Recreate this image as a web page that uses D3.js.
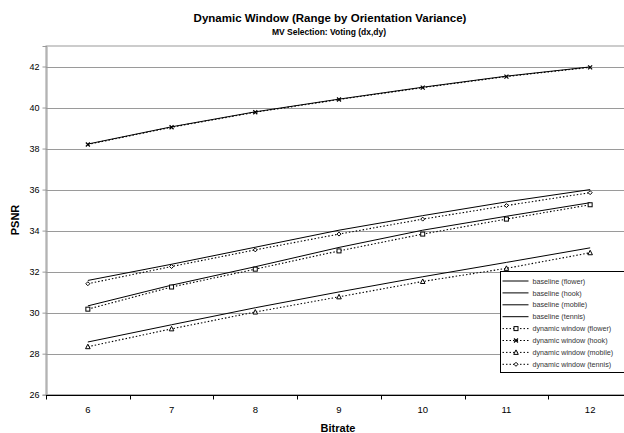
<!DOCTYPE html>
<html>
<head>
<meta charset="utf-8">
<script src="https://cdn.jsdelivr.net/npm/d3@7/dist/d3.min.js"></script>
<style>
  html, body { margin: 0; padding: 0; background: #fff; }
  svg { display: block; font-family: "Liberation Sans", Arial, sans-serif; }
</style>
</head>
<body>
<svg id="chart" width="624" height="433"></svg>
<script>
// Bitrate categories along the x axis
const bitrates = [6, 7, 8, 9, 10, 11, 12];
const yTicks = [26, 28, 30, 32, 34, 36, 38, 40, 42];

// PSNR values per sequence
const baselineFlower = [30.33, 31.34, 32.24, 33.18, 34.02, 34.70, 35.36];
const baselineHook   = [38.22, 39.06, 39.79, 40.41, 40.99, 41.53, 41.98];
const baselineMobile = [28.57, 29.41, 30.24, 31.01, 31.75, 32.45, 33.16];
const baselineTennis = [31.57, 32.36, 33.19, 34.02, 34.73, 35.40, 36.00];

const dynamicFlower = [30.17, 31.25, 32.12, 33.01, 33.83, 34.56, 35.26];
const dynamicHook   = [38.20, 39.04, 39.77, 40.39, 40.97, 41.51, 41.96];
const dynamicMobile = [28.34, 29.21, 30.03, 30.77, 31.52, 32.16, 32.92];
const dynamicTennis = [31.41, 32.25, 33.06, 33.83, 34.56, 35.22, 35.85];

const seriesNames = [
  "baseline (flower)", "baseline (hook)", "baseline (mobile)", "baseline (tennis)",
  "dynamic window (flower)", "dynamic window (hook)", "dynamic window (mobile)", "dynamic window (tennis)"
];

const series = [
  { name: seriesNames[0], values: baselineFlower, dashed: false, marker: null },
  { name: seriesNames[1], values: baselineHook,   dashed: false, marker: null },
  { name: seriesNames[2], values: baselineMobile, dashed: false, marker: null },
  { name: seriesNames[3], values: baselineTennis, dashed: false, marker: null },
  { name: seriesNames[4], values: dynamicFlower, dashed: true, marker: "square" },
  { name: seriesNames[5], values: dynamicHook,   dashed: true, marker: "cross" },
  { name: seriesNames[6], values: dynamicMobile, dashed: true, marker: "triangle" },
  { name: seriesNames[7], values: dynamicTennis, dashed: true, marker: "diamond" }
];

const svg = d3.select("#chart");
const plot = { left: 46, top: 46, right: 632, bottom: 394.7 };

const x = d3.scalePoint().domain(bitrates).range([plot.left, plot.right]).padding(0.5);
const y = d3.scaleLinear().domain([26, 43]).range([plot.bottom, plot.top]);

// Plot area frame
svg.append("rect")
  .attr("x", plot.left).attr("y", plot.top)
  .attr("width", plot.right - plot.left).attr("height", plot.bottom - plot.top)
  .attr("fill", "#fff").attr("stroke", "#9a9a9a").attr("stroke-width", 1);

// Horizontal gridlines
svg.append("g").selectAll("line").data(yTicks.filter(d => d > 26)).join("line")
  .attr("x1", plot.left).attr("x2", plot.right)
  .attr("y1", d => Math.round(y(d)) + 0.5).attr("y2", d => Math.round(y(d)) + 0.5)
  .attr("stroke", "#9a9a9a").attr("stroke-width", 1);

// Y axis
const yAxis = svg.append("g")
  .attr("transform", `translate(${plot.left + 0.5},0)`)
  .call(d3.axisLeft(y).tickValues(yTicks).tickSize(4).tickPadding(3));
yAxis.select(".domain").attr("stroke", "#9a9a9a");
yAxis.selectAll(".tick line").attr("stroke", "#9a9a9a");
yAxis.selectAll(".tick text").attr("font-size", 9).attr("fill", "#000")
  .attr("font-family", "Liberation Sans, Arial, sans-serif");

// X axis: ticks fall between the categories
const step = x.step();
const xBoundaries = d3.range(bitrates.length + 1).map(i => plot.left + i * step);
const xAxis = svg.append("g").attr("transform", `translate(0,${Math.round(plot.bottom) + 0.5})`);
xAxis.append("line").attr("x1", plot.left).attr("x2", plot.right).attr("stroke", "#000");
xAxis.selectAll("line.tk").data(xBoundaries).join("line").attr("class", "tk")
  .attr("x1", d => Math.round(d) + 0.5).attr("x2", d => Math.round(d) + 0.5)
  .attr("y1", 0).attr("y2", 4).attr("stroke", "#000");
xAxis.selectAll("text").data(bitrates).join("text")
  .attr("x", d => x(d)).attr("y", 17)
  .attr("text-anchor", "middle").attr("font-size", 9.5).attr("fill", "#000")
  .text(d => d);

// Series lines
const line = d3.line().x((d, i) => x(bitrates[i])).y(d => y(d));
svg.append("g").selectAll("path").data(series).join("path")
  .attr("d", d => line(d.values))
  .attr("fill", "none").attr("stroke", "#000")
  .attr("stroke-width", d => d.dashed ? 1.1 : 1)
  .attr("stroke-dasharray", d => d.dashed ? "1.5,2" : null);

// Marker shapes
function drawMarker(g, type, cx, cy) {
  const s = 2;
  if (type === "square") {
    g.append("rect").attr("x", cx - s).attr("y", cy - s).attr("width", 2 * s).attr("height", 2 * s)
      .attr("fill", "#fff").attr("stroke", "#000").attr("stroke-width", 1);
  } else if (type === "cross") {
    g.append("path").attr("d", `M${cx - s},${cy - s}L${cx + s},${cy + s}M${cx - s},${cy + s}L${cx + s},${cy - s}`)
      .attr("stroke", "#000").attr("stroke-width", 1.2).attr("fill", "none");
  } else if (type === "triangle") {
    g.append("path").attr("d", `M${cx},${cy - s - 0.5}L${cx + s + 0.3},${cy + s}L${cx - s - 0.3},${cy + s}Z`)
      .attr("fill", "#fff").attr("stroke", "#000").attr("stroke-width", 1);
  } else if (type === "diamond") {
    g.append("path").attr("d", `M${cx},${cy - s}L${cx + s},${cy}L${cx},${cy + s}L${cx - s},${cy}Z`)
      .attr("fill", "#fff").attr("stroke", "#000").attr("stroke-width", 1);
  }
}

const markerLayer = svg.append("g");
series.filter(s => s.marker).forEach(s => {
  s.values.forEach((v, i) => drawMarker(markerLayer, s.marker, x(bitrates[i]), y(v)));
});

// Legend
const legend = svg.append("g").attr("transform", "translate(500.5,271.5)");
legend.append("rect").attr("width", 126).attr("height", 101)
  .attr("fill", "#fff").attr("stroke", "#000").attr("stroke-width", 1);
series.forEach((s, i) => {
  const ly = 9.5 + i * 11.9;
  legend.append("line").attr("x1", 2).attr("x2", 28).attr("y1", ly).attr("y2", ly)
    .attr("stroke", "#000").attr("stroke-width", 1)
    .attr("stroke-dasharray", s.dashed ? "1.5,2" : null);
  if (s.marker) drawMarker(legend, s.marker, 15.5, ly);
  legend.append("text").attr("x", 32).attr("y", ly + 2.6)
    .attr("font-size", 7.2).attr("fill", "#333").text(s.name);
});

// Titles
svg.append("text").attr("x", 330).attr("y", 22).attr("text-anchor", "middle")
  .attr("font-size", 11.5).attr("font-weight", "bold").text("Dynamic Window (Range by Orientation Variance)");
svg.append("text").attr("x", 329).attr("y", 35).attr("text-anchor", "middle")
  .attr("font-size", 8.5).attr("font-weight", "bold").text("MV Selection: Voting (dx,dy)");
svg.append("text").attr("x", 338).attr("y", 432).attr("text-anchor", "middle")
  .attr("font-size", 11).attr("font-weight", "bold").text("Bitrate");
svg.append("text").attr("transform", "translate(19,220) rotate(-90)").attr("text-anchor", "middle")
  .attr("font-size", 11).attr("font-weight", "bold").text("PSNR");
</script>
</body>
</html>
